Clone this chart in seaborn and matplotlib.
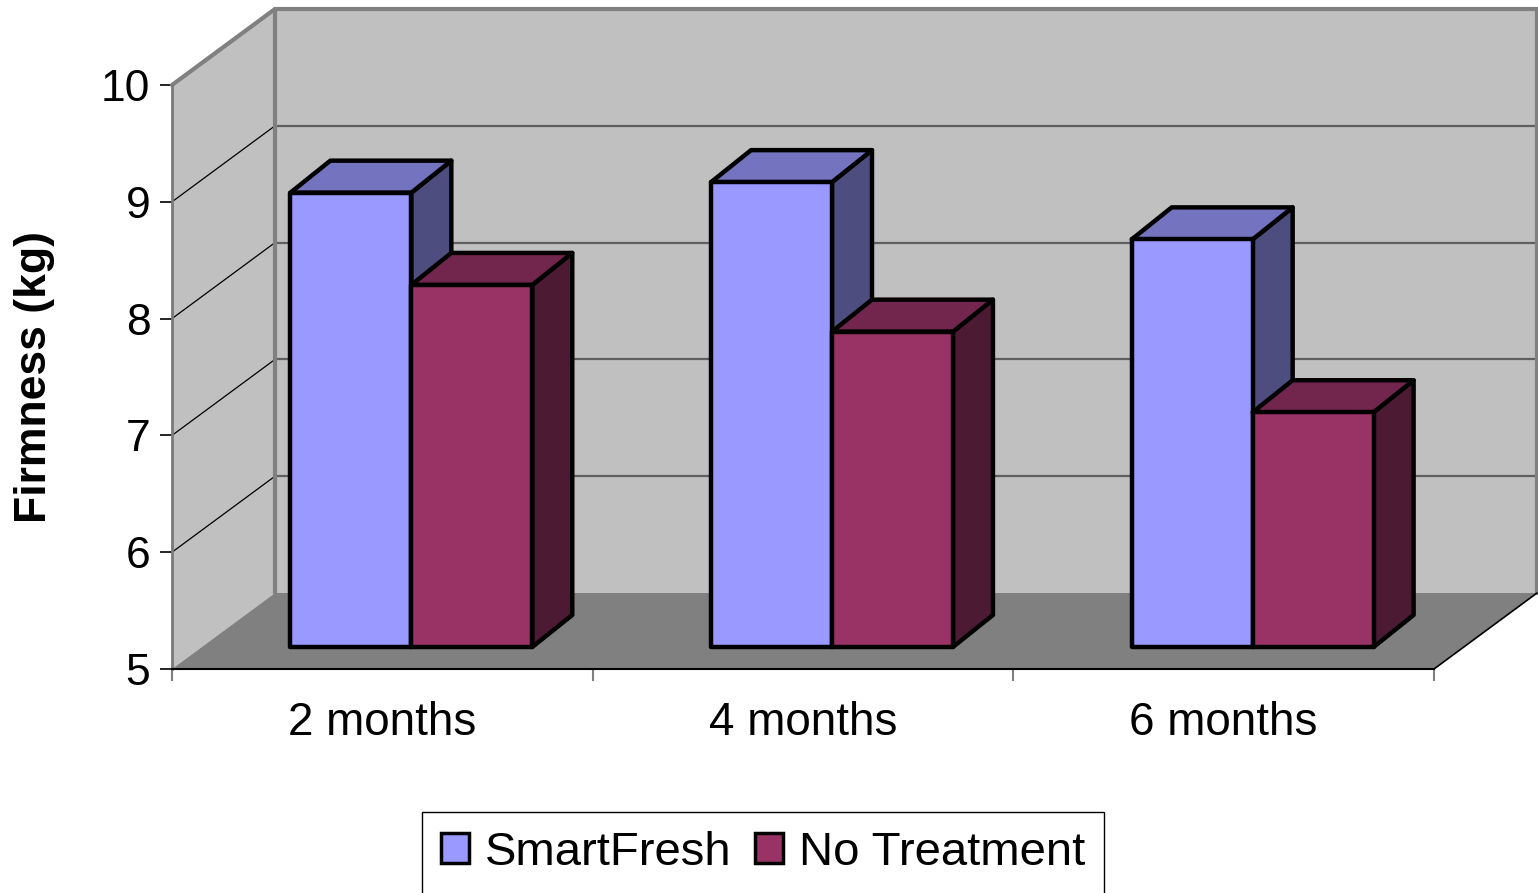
import numpy as np
import pandas as pd
import seaborn as sns
import matplotlib
matplotlib.use('Agg')
import matplotlib.pyplot as plt
from matplotlib.patches import Polygon, Patch
from matplotlib.colors import to_hex
from matplotlib.transforms import offset_copy

periods = ['2 months', '4 months', '6 months']
series = ['SmartFresh', 'No Treatment']
smartfresh = [8.89, 8.98, 8.49]
no_treatment = [8.10, 7.70, 7.01]
y_ticks = [5, 6, 7, 8, 9, 10]

front_colors = ['#9999FF', '#993366']
top_colors = ['#7373BF', '#73264D']
side_colors = ['#4D4D80', '#4D1A33']

sns.set_style('white')
plt.rcParams['font.family'] = ['Liberation Sans', 'DejaVu Sans']
plt.rcParams['text.color'] = 'black'
plt.rcParams['xtick.labelcolor'] = 'black'
plt.rcParams['ytick.labelcolor'] = 'black'

W, H = 1538, 893
fig = plt.figure(figsize=(W / 100, H / 100), dpi=100)
# axes = front plane of the 3D box
ax = fig.add_axes([172 / W, 224 / H, 1262 / W, 584 / H])

df = pd.DataFrame({
    'period': periods * 2,
    'series': [series[0]] * len(periods) + [series[1]] * len(periods),
    'firmness': smartfresh + no_treatment,
})

sns.barplot(data=df, x='period', y='firmness', hue='series', hue_order=series,
            palette=front_colors, saturation=1, width=0.575, errorbar=None,
            edgecolor='black', linewidth=3.2, legend=False, ax=ax)
bars = list(ax.patches)

xmin, xmax = -0.5, len(periods) - 0.5
ymin, ymax = y_ticks[0], y_ticks[-1]
ax.set_xlim(xmin, xmax)
ax.set_ylim(ymin, ymax)

# pixel sizes in data units
px = (xmax - xmin) / 1262
py = (ymax - ymin) / 584
wall_dx, wall_dy = 103 * px, 76 * py
bar_dx, bar_dy = 40 * px, 32 * py
# bars stand a bit behind the front edge
bar_plane = offset_copy(ax.transData, fig=fig, x=29, y=22, units='dots')

# walls and floor
wall_kw = dict(edgecolor='none', clip_on=False, zorder=0.5)
ax.add_patch(Polygon([(xmin, ymin), (xmin, ymax), (xmin + wall_dx, ymax + wall_dy),
                      (xmin + wall_dx, ymin + wall_dy)], facecolor='#C0C0C0', **wall_kw))
ax.add_patch(Polygon([(xmin + wall_dx, ymin + wall_dy), (xmin + wall_dx, ymax + wall_dy),
                      (xmax + wall_dx, ymax + wall_dy), (xmax + wall_dx, ymin + wall_dy)],
                     facecolor='#C0C0C0', **wall_kw))
ax.add_patch(Polygon([(xmin, ymin), (xmax, ymin), (xmax + wall_dx, ymin + wall_dy),
                      (xmin + wall_dx, ymin + wall_dy)], facecolor='#808080', **wall_kw))

for v in y_ticks[1:-1]:
    ax.plot([xmin + wall_dx, xmax + wall_dx], [v + wall_dy] * 2, color='#5f5f5f', lw=1.6,
            zorder=0.6, clip_on=False)
    ax.plot([xmin, xmin + wall_dx], [v, v + wall_dy], color='black', lw=0.9,
            zorder=0.6, clip_on=False)

ax.plot([xmin, xmin + wall_dx, xmax + wall_dx, xmax + wall_dx],
        [ymax, ymax + wall_dy, ymax + wall_dy, ymin + wall_dy],
        color='#808080', lw=3, zorder=0.7, clip_on=False, solid_joinstyle='miter')
ax.plot([xmin + wall_dx] * 2, [ymin + wall_dy, ymax + wall_dy], color='#808080', lw=3,
        zorder=0.7, clip_on=False)
ax.plot([xmax, xmax + wall_dx], [ymin, ymin + wall_dy], color='black', lw=1.2,
        zorder=0.7, clip_on=False)

# 3D bars: side and top faces from each seaborn bar
def series_of(bar):
    c = to_hex(bar.get_facecolor()).upper()
    return front_colors.index(c) if c in front_colors else 0

kinds = [series_of(b) for b in bars]
order = sorted(zip(bars, kinds), key=lambda t: t[0].get_x())
face_kw = dict(edgecolor='black', linewidth=3.2, joinstyle='round', clip_on=False,
               transform=bar_plane)
for i, (bar, k) in enumerate(order):
    x0, w, top = bar.get_x(), bar.get_width(), bar.get_height()
    bar.set_y(ymin)
    bar.set_height(top - ymin)
    bar.set_transform(bar_plane)
    bar.set_clip_on(False)
    bar.set_joinstyle('round')
    bar.set_zorder(3 + 3 * i + 2)
    ax.add_patch(Polygon([(x0 + w, ymin), (x0 + w, top), (x0 + w + bar_dx, top + bar_dy),
                          (x0 + w + bar_dx, ymin + bar_dy)], facecolor=side_colors[k],
                         zorder=3 + 3 * i, **face_kw))
    ax.add_patch(Polygon([(x0, top), (x0 + w, top), (x0 + w + bar_dx, top + bar_dy),
                          (x0 + bar_dx, top + bar_dy)], facecolor=top_colors[k],
                         zorder=3 + 3 * i + 1, **face_kw))

# axes styling
ax.patch.set_visible(False)
for s in ['top', 'right']:
    ax.spines[s].set_visible(False)
ax.spines['left'].set_color('#7a7a7a')
ax.spines['left'].set_linewidth(2)
ax.spines['bottom'].set_color('black')
ax.spines['bottom'].set_linewidth(1.5)

ax.set_yticks(y_ticks)
ax.tick_params(axis='y', left=True, length=8.6, width=1.2, color='black', pad=7,
               labelsize=32, labelcolor='black')
ax.set_xticks(np.arange(len(periods) + 1) - 0.5)
ax.set_xticklabels([])
ax.set_xticks(range(len(periods)), minor=True)
ax.set_xticklabels(periods, minor=True)
ax.tick_params(axis='x', which='major', bottom=True, length=8.6, width=1.5, color='#808080')
ax.tick_params(axis='x', which='minor', bottom=True, length=0, pad=23, labelsize=33,
               labelcolor='black')
ax.set_xlabel('')
ax.set_ylabel('')

fig.text(35 / W, 1 - 377 / H, 'Firmness (kg)', rotation=90, ha='center', va='center',
         fontsize=32, fontweight='bold', color='black')

handles = [Patch(facecolor=c, edgecolor='black', linewidth=2.5) for c in front_colors]
leg = fig.legend(handles, series, loc='upper left', bbox_to_anchor=(422 / W, 1 - 812 / H),
                 ncol=2, fontsize=34, frameon=True, fancybox=False, edgecolor='black',
                 framealpha=1, borderaxespad=0, borderpad=0.4, handlelength=0.6,
                 handleheight=0.6, handletextpad=0.33, columnspacing=0.5,
                 labelcolor='black')
leg.get_frame().set_linewidth(1)

fig.savefig('out.png', dpi=100)
